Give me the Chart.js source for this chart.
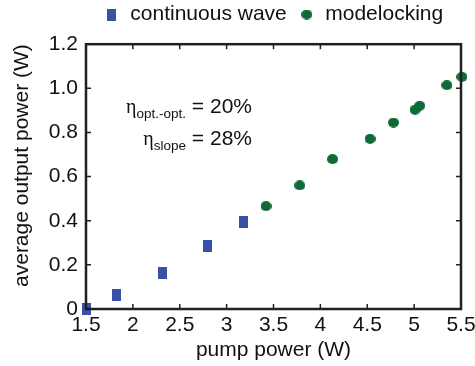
<!DOCTYPE html>
<html><head><meta charset="utf-8">
<script src="https://cdn.jsdelivr.net/npm/chart.js@4/dist/chart.umd.min.js"></script>
<style>html,body{margin:0;padding:0;background:#fff}#wrap{width:475px;height:366px}</style>
</head><body><div id="wrap"><canvas id="c" width="475" height="366"></canvas></div>
<script>
const cwPump = [1.50, 1.82, 2.32, 2.80, 3.18];
const cwPower = [0.00, 0.063, 0.162, 0.287, 0.393];
const mlPump = [3.42, 3.78, 4.13, 4.53, 4.78, 5.01, 5.06, 5.35, 5.51];
const mlPower = [0.466, 0.56, 0.679, 0.771, 0.845, 0.903, 0.921, 1.014, 1.052];
const xTicks = [1.5, 2, 2.5, 3, 3.5, 4, 4.5, 5, 5.5];
const yTicks = [0, 0.2, 0.4, 0.6, 0.8, 1.0, 1.2];
const labels = ['continuous wave', 'modelocking'];
const FONT = "'Liberation Sans', Arial, sans-serif";
const AX = '#231f20';
const BLUE = '#3a4fa6', GREEN = '#0f6a37';

function marker(kind, w, h, color) {
  const c = document.createElement('canvas');
  c.width = w; c.height = h;
  const g = c.getContext('2d');
  g.fillStyle = color;
  if (kind === 'rect') g.fillRect(0, 0, w, h);
  else { g.beginPath(); g.ellipse(w / 2, h / 2, w / 2, h / 2, 0, 0, Math.PI * 2); g.fill(); }
  return c;
}
const sqImg = marker('rect', 9, 12, BLUE);
const ciImg = marker('circle', 11, 10, GREEN);

const framePlugin = {
  id: 'frame',
  afterDatasetsDraw(chart) {
    const {ctx, scales: {x, y}} = chart;
    const l = x.getPixelForValue(xTicks[0]), r = x.getPixelForValue(xTicks[xTicks.length - 1]);
    const t = y.getPixelForValue(yTicks[yTicks.length - 1]), b = y.getPixelForValue(yTicks[0]);
    ctx.save();
    ctx.strokeStyle = AX; ctx.lineWidth = 2.5;
    ctx.strokeRect(l, t, r - l, b - t);
    ctx.lineWidth = 1.5;
    const L = 5;
    ctx.beginPath();
    xTicks.forEach(v => { const px = x.getPixelForValue(v);
      ctx.moveTo(px, b); ctx.lineTo(px, b - L);
      ctx.moveTo(px, t); ctx.lineTo(px, t + L); });
    yTicks.forEach(v => { const py = y.getPixelForValue(v);
      ctx.moveTo(l, py); ctx.lineTo(l + L, py);
      ctx.moveTo(r, py); ctx.lineTo(r - L, py); });
    ctx.stroke();
    ctx.restore();
  },
  afterDraw(chart) {
    const {ctx} = chart;
    ctx.save();
    ctx.fillStyle = '#111';
    ctx.textBaseline = 'alphabetic';
    const right = 252;
    function line(sub, val, yb) {
      ctx.font = "21px " + FONT;
      const wv = ctx.measureText(val).width;
      ctx.font = "13.5px " + FONT;
      const ws = ctx.measureText(sub).width;
      ctx.font = "20px 'Liberation Serif', serif";
      const we = ctx.measureText('η').width;
      let xs = right - wv - ws - we;
      ctx.fillText('η', xs, yb);
      ctx.font = "13.5px " + FONT;
      ctx.fillText(sub, xs + we, yb + 5);
      ctx.font = "21px " + FONT;
      ctx.fillText(val, right - wv, yb);
    }
    line('opt.-opt.', ' = 20%', 113);
    line('slope', ' = 28%', 145);
    ctx.restore();
  }
};

new Chart(document.getElementById('c'), {
  type: 'scatter',
  data: {
    datasets: [
      { label: labels[0], data: cwPump.map((v, i) => ({x: v, y: cwPower[i]})), clip: false,
        pointStyle: sqImg, backgroundColor: BLUE, borderColor: BLUE },
      { label: labels[1], data: mlPump.map((v, i) => ({x: v, y: mlPower[i]})), clip: false,
        pointStyle: ciImg, backgroundColor: GREEN, borderColor: GREEN }
    ]
  },
  options: {
    responsive: false, animation: false,
    layout: {padding: {left: 0, right: 14, top: -8, bottom: 0}},
    plugins: {
      tooltip: {enabled: false},
      legend: {
        position: 'top', align: 'center', weight: 3000, fullSize: false,
        labels: {usePointStyle: true, pointStyleWidth: 16, color: '#111', padding: 12,
          font: {family: FONT, size: 21}}
      },
      subtitle: {display: true, text: ' ', position: 'top', font: {size: 1}, padding: {top: 4, bottom: 4}}
    },
    scales: {
      x: {
        type: 'linear', min: 1.5, max: 5.5,
        afterBuildTicks: s => { s.ticks = xTicks.map(v => ({value: v})); },
        afterFit: s => { s.height = 57; s.paddingLeft = 0; s.paddingRight = 0; },
        grid: {display: false, drawTicks: false},
        border: {display: false},
        ticks: {color: '#111', font: {family: FONT, size: 21}, padding: 4, maxRotation: 0,
          callback: v => String(v)},
        title: {display: true, text: 'pump power (W)', color: '#111', font: {family: FONT, size: 21}, padding: {top: 0, bottom: 3}}
      },
      y: {
        type: 'linear', min: 0, max: 1.2,
        afterBuildTicks: s => { s.ticks = yTicks.map(v => ({value: v})); },
        afterFit: s => { s.width = 86; s.paddingTop = 0; s.paddingBottom = 0; },
        grid: {display: false, drawTicks: false},
        border: {display: false},
        ticks: {color: '#111', font: {family: FONT, size: 21}, padding: 8,
          callback: v => v === 0 ? '0' : v.toFixed(1)},
        title: {display: true, text: 'average output power (W)', align: 'end', color: '#111', font: {family: FONT, size: 21}, padding: {top: 10, bottom: 0}}
      }
    }
  },
  plugins: [framePlugin]
});
</script></body></html>
